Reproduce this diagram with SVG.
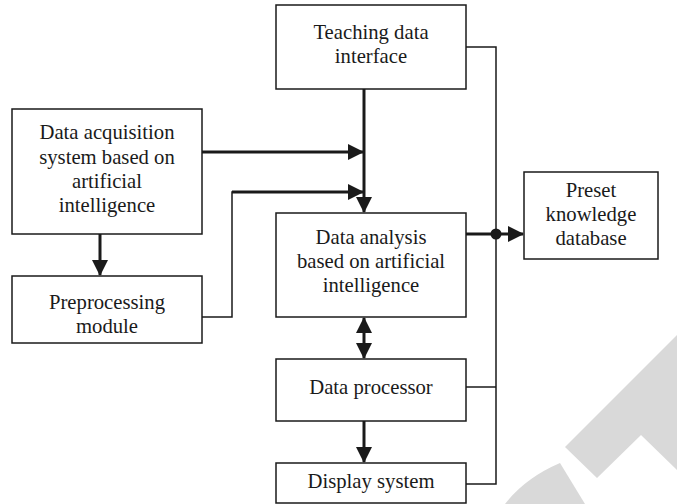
<svg xmlns="http://www.w3.org/2000/svg" width="677" height="504" viewBox="0 0 677 504">
<style>
.box{fill:#fff;stroke:#1a1a1a;stroke-width:1.5}
.t{font-family:"Liberation Serif",serif;font-size:20.7px;fill:#1a1a1a;text-anchor:middle}
.thick{fill:none;stroke:#1a1a1a;stroke-width:3}
.thin{fill:none;stroke:#1a1a1a;stroke-width:1.5}
.wm{fill:#d9d9d9}
</style>
<defs>
<marker id="ah" viewBox="0 0 16 16" refX="15" refY="8" markerWidth="16" markerHeight="16" markerUnits="userSpaceOnUse" orient="auto-start-reverse">
<path d="M0,0 L16,8 L0,16 Z" fill="#1a1a1a"/>
</marker>
</defs>
<g id="watermark">
<path class="wm" d="M565,447 L677,335 L677,470 L641,435 L597,478 Z"/>
<path class="wm" d="M560,463 L585,504 L505,504 Q525,478 560,463 Z"/>
</g>
<g id="connectors">
<line class="thick" x1="364" y1="89" x2="364" y2="212" marker-end="url(#ah)"/>
<line class="thick" x1="202" y1="152" x2="363" y2="152" marker-end="url(#ah)"/>
<polyline class="thin" points="202,317 232,317 232,192 300,192"/>
<line class="thick" x1="232" y1="192" x2="363" y2="192" marker-end="url(#ah)"/>
<line class="thick" x1="100" y1="234" x2="100" y2="275" marker-end="url(#ah)"/>
<line class="thick" x1="364" y1="318" x2="364" y2="358" marker-start="url(#ah)" marker-end="url(#ah)"/>
<line class="thick" x1="364" y1="421" x2="364" y2="462" marker-end="url(#ah)"/>
<polyline class="thin" points="466,47 496,47 496,484 466,484"/>
<line class="thin" x1="466" y1="387" x2="496" y2="387"/>
<line class="thick" x1="466" y1="234" x2="523" y2="234" marker-end="url(#ah)"/>
<circle cx="496" cy="234" r="5.5" fill="#1a1a1a"/>
</g>
<g id="teaching">
<rect class="box" x="276" y="5" width="190" height="84"/>
<text class="t" x="371" y="39">Teaching data</text>
<text class="t" x="371" y="63">interface</text>
</g>
<g id="acquisition">
<rect class="box" x="12" y="109" width="190" height="125"/>
<text class="t" x="107" y="139">Data acquisition</text>
<text class="t" x="107" y="164">system based on</text>
<text class="t" x="107" y="188">artificial</text>
<text class="t" x="107" y="212">intelligence</text>
</g>
<g id="preprocessing">
<rect class="box" x="12" y="276" width="190" height="67"/>
<text class="t" x="107" y="309">Preprocessing</text>
<text class="t" x="107" y="333">module</text>
</g>
<g id="analysis">
<rect class="box" x="276" y="213" width="190" height="104"/>
<text class="t" x="371" y="244">Data analysis</text>
<text class="t" x="371" y="268">based on artificial</text>
<text class="t" x="371" y="292">intelligence</text>
</g>
<g id="preset">
<rect class="box" x="524" y="172" width="134" height="87"/>
<text class="t" x="591" y="197">Preset</text>
<text class="t" x="591" y="221">knowledge</text>
<text class="t" x="591" y="245">database</text>
</g>
<g id="processor">
<rect class="box" x="276" y="359" width="190" height="62"/>
<text class="t" x="371" y="394">Data processor</text>
</g>
<g id="display">
<rect class="box" x="276" y="463" width="190" height="40"/>
<text class="t" x="371" y="488">Display system</text>
</g>
</svg>
